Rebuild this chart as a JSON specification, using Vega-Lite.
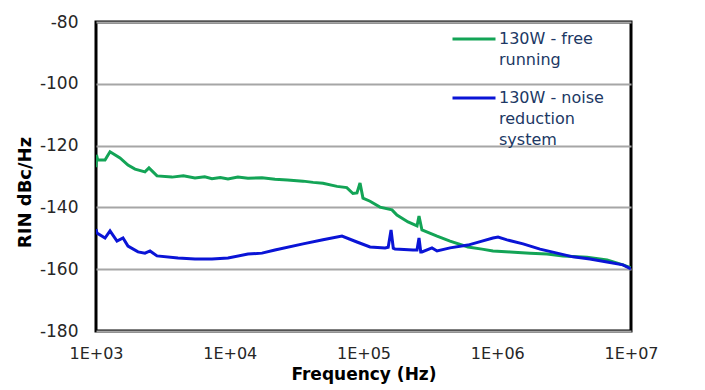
{
  "$schema": "https://vega.github.io/schema/vega-lite/v6.json",
  "width": 535,
  "height": 309,
  "autosize": {"type": "none"},
  "padding": {"left": 96, "top": 22, "right": 74, "bottom": 59},
  "background": "white",
  "config": {"view": {"stroke": "black", "strokeWidth": 3}, "font": "DejaVu Sans"},
  "data": {"values": [
    {"series": "130W - free running", "freq": 1000, "rin": -127},
    {"series": "130W - free running", "freq": 1008, "rin": -123},
    {"series": "130W - free running", "freq": 1030, "rin": -124.7},
    {"series": "130W - free running", "freq": 1168, "rin": -124.7},
    {"series": "130W - free running", "freq": 1273, "rin": -122},
    {"series": "130W - free running", "freq": 1511, "rin": -124},
    {"series": "130W - free running", "freq": 1734, "rin": -126.3},
    {"series": "130W - free running", "freq": 1958, "rin": -127.6},
    {"series": "130W - free running", "freq": 2323, "rin": -128.5},
    {"series": "130W - free running", "freq": 2489, "rin": -127.2},
    {"series": "130W - free running", "freq": 2858, "rin": -129.8},
    {"series": "130W - free running", "freq": 3698, "rin": -130.2},
    {"series": "130W - free running", "freq": 4500, "rin": -129.8},
    {"series": "130W - free running", "freq": 5495, "rin": -130.5},
    {"series": "130W - free running", "freq": 6500, "rin": -130.1},
    {"series": "130W - free running", "freq": 7362, "rin": -130.7},
    {"series": "130W - free running", "freq": 8500, "rin": -130.3},
    {"series": "130W - free running", "freq": 9705, "rin": -130.8},
    {"series": "130W - free running", "freq": 11500, "rin": -130.2},
    {"series": "130W - free running", "freq": 13680, "rin": -130.6},
    {"series": "130W - free running", "freq": 17420, "rin": -130.4},
    {"series": "130W - free running", "freq": 21780, "rin": -130.9},
    {"series": "130W - free running", "freq": 27000, "rin": -131.1},
    {"series": "130W - free running", "freq": 35320, "rin": -131.5},
    {"series": "130W - free running", "freq": 42000, "rin": -131.9},
    {"series": "130W - free running", "freq": 49770, "rin": -132.2},
    {"series": "130W - free running", "freq": 63390, "rin": -133.2},
    {"series": "130W - free running", "freq": 75000, "rin": -133.6},
    {"series": "130W - free running", "freq": 83370, "rin": -135.5},
    {"series": "130W - free running", "freq": 89330, "rin": -135.3},
    {"series": "130W - free running", "freq": 94190, "rin": -132.1},
    {"series": "130W - free running", "freq": 99080, "rin": -137},
    {"series": "130W - free running", "freq": 111900, "rin": -138},
    {"series": "130W - free running", "freq": 132800, "rin": -139.9},
    {"series": "130W - free running", "freq": 163300, "rin": -140.8},
    {"series": "130W - free running", "freq": 177800, "rin": -142.5},
    {"series": "130W - free running", "freq": 215300, "rin": -144.7},
    {"series": "130W - free running", "freq": 251200, "rin": -146},
    {"series": "130W - free running", "freq": 260000, "rin": -142.8},
    {"series": "130W - free running", "freq": 273500, "rin": -147.3},
    {"series": "130W - free running", "freq": 354800, "rin": -149.3},
    {"series": "130W - free running", "freq": 443600, "rin": -150.9},
    {"series": "130W - free running", "freq": 603900, "rin": -152.8},
    {"series": "130W - free running", "freq": 769100, "rin": -153.5},
    {"series": "130W - free running", "freq": 928900, "rin": -154.1},
    {"series": "130W - free running", "freq": 1245000, "rin": -154.4},
    {"series": "130W - free running", "freq": 1758000, "rin": -154.8},
    {"series": "130W - free running", "freq": 2355000, "rin": -155.1},
    {"series": "130W - free running", "freq": 3105000, "rin": -155.7},
    {"series": "130W - free running", "freq": 4688000, "rin": -156.1},
    {"series": "130W - free running", "freq": 6622000, "rin": -157},
    {"series": "130W - free running", "freq": 8710000, "rin": -158.6},
    {"series": "130W - free running", "freq": 10000000, "rin": -159.6},
    {"series": "130W - noise reduction system", "freq": 1000, "rin": -147},
    {"series": "130W - noise reduction system", "freq": 1017, "rin": -148.3},
    {"series": "130W - noise reduction system", "freq": 1168, "rin": -149.9},
    {"series": "130W - noise reduction system", "freq": 1273, "rin": -147.6},
    {"series": "130W - noise reduction system", "freq": 1435, "rin": -150.9},
    {"series": "130W - noise reduction system", "freq": 1592, "rin": -149.9},
    {"series": "130W - noise reduction system", "freq": 1734, "rin": -152.5},
    {"series": "130W - noise reduction system", "freq": 2061, "rin": -154.4},
    {"series": "130W - noise reduction system", "freq": 2323, "rin": -154.8},
    {"series": "130W - noise reduction system", "freq": 2535, "rin": -154.1},
    {"series": "130W - noise reduction system", "freq": 2858, "rin": -155.7},
    {"series": "130W - noise reduction system", "freq": 4102, "rin": -156.4},
    {"series": "130W - noise reduction system", "freq": 5495, "rin": -156.7},
    {"series": "130W - noise reduction system", "freq": 7362, "rin": -156.7},
    {"series": "130W - noise reduction system", "freq": 9705, "rin": -156.4},
    {"series": "130W - noise reduction system", "freq": 13680, "rin": -155.1},
    {"series": "130W - noise reduction system", "freq": 17420, "rin": -154.8},
    {"series": "130W - noise reduction system", "freq": 21780, "rin": -153.8},
    {"series": "130W - noise reduction system", "freq": 35320, "rin": -151.8},
    {"series": "130W - noise reduction system", "freq": 49770, "rin": -150.5},
    {"series": "130W - noise reduction system", "freq": 69020, "rin": -149.3},
    {"series": "130W - noise reduction system", "freq": 89330, "rin": -151.2},
    {"series": "130W - noise reduction system", "freq": 111900, "rin": -152.8},
    {"series": "130W - noise reduction system", "freq": 144900, "rin": -153.1},
    {"series": "130W - noise reduction system", "freq": 153000, "rin": -152.9},
    {"series": "130W - noise reduction system", "freq": 160700, "rin": -147.3},
    {"series": "130W - noise reduction system", "freq": 167000, "rin": -153.2},
    {"series": "130W - noise reduction system", "freq": 172200, "rin": -153.5},
    {"series": "130W - noise reduction system", "freq": 234400, "rin": -153.8},
    {"series": "130W - noise reduction system", "freq": 251200, "rin": -153.8},
    {"series": "130W - noise reduction system", "freq": 260000, "rin": -149.9},
    {"series": "130W - noise reduction system", "freq": 268000, "rin": -154.4},
    {"series": "130W - noise reduction system", "freq": 273500, "rin": -154.4},
    {"series": "130W - noise reduction system", "freq": 325100, "rin": -153.1},
    {"series": "130W - noise reduction system", "freq": 354800, "rin": -154.1},
    {"series": "130W - noise reduction system", "freq": 443600, "rin": -153.1},
    {"series": "130W - noise reduction system", "freq": 603900, "rin": -152.2},
    {"series": "130W - noise reduction system", "freq": 769100, "rin": -150.9},
    {"series": "130W - noise reduction system", "freq": 928900, "rin": -149.9},
    {"series": "130W - noise reduction system", "freq": 1014000, "rin": -149.6},
    {"series": "130W - noise reduction system", "freq": 1183000, "rin": -150.5},
    {"series": "130W - noise reduction system", "freq": 1560000, "rin": -151.8},
    {"series": "130W - noise reduction system", "freq": 2089000, "rin": -153.5},
    {"series": "130W - noise reduction system", "freq": 2799000, "rin": -154.8},
    {"series": "130W - noise reduction system", "freq": 3681000, "rin": -156},
    {"series": "130W - noise reduction system", "freq": 4932000, "rin": -156.7},
    {"series": "130W - noise reduction system", "freq": 6622000, "rin": -157.7},
    {"series": "130W - noise reduction system", "freq": 8710000, "rin": -158.6},
    {"series": "130W - noise reduction system", "freq": 10000000, "rin": -159.9}
  ]},
  "mark": {"type": "line", "strokeWidth": 3, "clip": true},
  "encoding": {
    "x": {
      "field": "freq", "type": "quantitative",
      "scale": {"type": "log", "domain": [1000, 10000000]},
      "axis": {
        "values": [1000, 10000, 100000, 1000000, 10000000],
        "labelExpr": "'1E+0' + round(log(datum.value) / LN10)",
        "grid": false, "ticks": false, "domain": false,
        "labelPadding": 14, "labelFontSize": 16, "labelColor": "#262626", "labelFlush": false,
        "title": "Frequency (Hz)", "titleFontSize": 17, "titleFontWeight": "bold", "titleColor": "#000000",
        "titleBaseline": "middle", "titleY": 43
      }
    },
    "y": {
      "field": "rin", "type": "quantitative",
      "scale": {"domain": [-180, -80], "nice": false},
      "axis": {
        "values": [-180, -160, -140, -120, -100, -80],
        "labelExpr": "'' + datum.value",
        "grid": true, "gridColor": "#A6A6A6", "gridWidth": 2,
        "ticks": false, "tickSize": 0, "domain": false,
        "labelPadding": 18, "labelFontSize": 17, "labelColor": "#262626",
        "title": "RIN dBc/Hz", "titleFontSize": 18, "titleFontWeight": "bold", "titleColor": "#000000",
        "titleX": -62, "titleY": 170
      }
    },
    "color": {
      "field": "series", "type": "nominal",
      "scale": {"domain": ["130W - free running", "130W - noise reduction system"], "range": ["#13A456", "#0A14D6"]},
      "legend": {
        "orient": "none", "legendX": 355, "legendY": -6,
        "title": null, "padding": 0, "offset": 0,
        "symbolType": "stroke", "symbolSize": 1849, "symbolStrokeWidth": 3,
        "labelFontSize": 16, "labelColor": "#203864", "labelOffset": 2, "labelLimit": 0,
        "labelExpr": "datum.label == '130W - free running' ? ['130W - free', 'running'] : ['130W - noise', 'reduction', 'system']",
        "rowPadding": 7,
        "encode": {"labels": {"update": {"lineHeight": {"value": 21}}}}
      }
    }
  }
}
